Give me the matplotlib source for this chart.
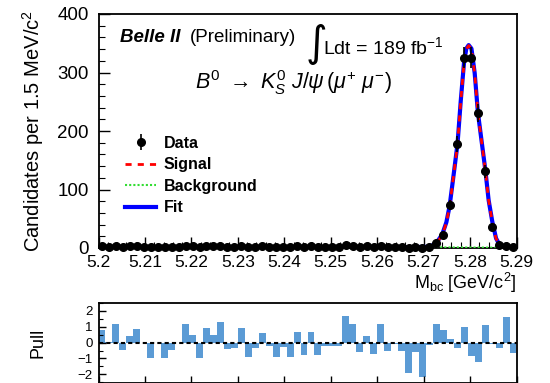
import matplotlib
matplotlib.use("Agg")
import matplotlib.pyplot as plt
from matplotlib.lines import Line2D
from matplotlib.ticker import MultipleLocator
import numpy as np

plt.rcParams["font.family"] = ["Liberation Sans", "DejaVu Sans"]
plt.rcParams["mathtext.fontset"] = "custom"
plt.rcParams["mathtext.rm"] = "Liberation Sans"
plt.rcParams["mathtext.it"] = "Liberation Sans:italic"
plt.rcParams["mathtext.bf"] = "Liberation Sans:bold"

# istogramma Mbc: 60 bin da 1.5 MeV tra 5.20 e 5.29
mbc_min, mbc_max, n_bins = 5.20, 5.29, 60
counts = [3, 2, 4, 1, 3, 3, 2, 1, 2, 1,
          1, 2, 4, 3, 1, 3, 3, 4, 1, 1,
          3, 1, 1, 3, 2, 1, 1, 1, 3, 1,
          3, 1, 2, 2, 2, 5, 4, 1, 3, 1,
          4, 1, 2, 1, 0, 1, 0, 2, 9, 22,
          73, 178, 325, 325, 231, 131, 36, 5, 3, 1]
pulls = [0.8, 0.05, 1.2, -0.47, 0.4, 0.85, 0.0, -0.95, 0.0, -0.95,
         -0.47, 0.0, 1.2, 0.45, -0.95, 0.9, 0.5, 1.3, -0.4, -0.35,
         0.9, -0.9, -0.35, 0.6, -0.2, -0.9, -0.3, -0.9, 0.65, -0.8,
         0.65, -0.8, -0.2, -0.2, -0.2, 1.7, 1.2, -0.6, 0.4, -0.7,
         1.2, -0.55, -0.1, -0.55, -1.95, -0.6, -2.15, -0.15, 1.2, 0.8,
         0.2, -0.35, 1.0, -0.85, -1.2, 1.1, -0.1, -0.35, 1.6, -0.65]

# curve del fit lette punto per punto
curve_mass = [5.2000, 5.2100, 5.2200, 5.2300, 5.2400, 5.2500, 5.2600, 5.2680,
              5.2713, 5.2727, 5.2740, 5.2749, 5.2756, 5.2763, 5.2773, 5.2780,
              5.2787, 5.2792, 5.2797, 5.2803, 5.2810, 5.2817, 5.2825, 5.2833,
              5.2840, 5.2848, 5.2856, 5.2865, 5.2878, 5.2890, 5.2900]
signal_curve = [0, 0, 0, 0, 0, 0, 0, 0.3,
                1, 7, 22, 43, 71, 114, 177, 251,
                316, 340, 346, 340, 298, 230, 181, 132,
                81, 44, 16, 3, 0.5, 0, 0]
bkg_curve = [1.6, 1.6, 1.6, 1.5, 1.5, 1.4, 1.3, 1.2,
             1.1, 1.1, 1.1, 1.0, 1.0, 1.0, 1.0, 0.9,
             0.9, 0.9, 0.9, 0.9, 0.8, 0.8, 0.8, 0.7,
             0.7, 0.6, 0.5, 0.4, 0.2, 0.0, 0.0]

edges = np.linspace(mbc_min, mbc_max, n_bins + 1)
centers = 0.5 * (edges[:-1] + edges[1:])
width = edges[1] - edges[0]
counts = np.array(counts, dtype=float)
fit_curve = np.array(signal_curve) + np.array(bkg_curve)

fig = plt.figure(figsize=(5.5, 3.83), dpi=100)
ax = fig.add_axes([98.5 / 550, 1 - 248 / 383, 418 / 550, 234 / 383])
axp = fig.add_axes([98.5 / 550, 0.0, 418 / 550, 80 / 383])

# pannello principale
ax.plot(curve_mass, fit_curve, color="#0000ff", lw=3.0, zorder=2)
ax.plot(curve_mass, signal_curve, color="#ff0000", lw=2.0, ls=(0, (2.2, 2.2)), zorder=3)
ax.plot(curve_mass, bkg_curve, color="#33dd33", lw=1.5, ls=(0, (1, 1)), zorder=3)
data = ax.errorbar(centers, counts, yerr=np.sqrt(counts), fmt="o", color="black",
                   ms=5.5, elinewidth=1.2, capsize=0, zorder=4, clip_on=False)

ax.set_xlim(mbc_min, mbc_max)
ax.set_ylim(0, 400)
ax.set_xticks(np.round(np.arange(5.20, 5.2901, 0.01), 2))
ax.set_xticklabels(["5.2", "5.21", "5.22", "5.23", "5.24", "5.25", "5.26", "5.27", "5.28", "5.29"])
ax.xaxis.set_minor_locator(MultipleLocator(0.002))
ax.yaxis.set_major_locator(MultipleLocator(100))
ax.yaxis.set_minor_locator(MultipleLocator(20))
ax.tick_params(which="both", direction="in", top=False, right=False)
ax.tick_params(which="major", length=8, width=1.0)
ax.tick_params(which="minor", length=4, width=0.8)
ax.tick_params(axis="x", labelsize=12.5, pad=5)
ax.tick_params(axis="y", labelsize=13.5, pad=7)
for s in ax.spines.values():
    s.set_linewidth(1.3)

ax.set_ylabel("Candidates per 1.5 MeV/c$^{2}$", fontsize=14.5)
ax.yaxis.set_label_coords(-0.125, 0.5)
ax.text(1.0, -0.15, r"M$_{\rm bc}$ [GeV/c$^{2}$]", transform=ax.transAxes,
        ha="right", va="center", fontsize=13)

ax.text(0.051, 0.88, "Belle II", transform=ax.transAxes, fontsize=13.5,
        fontweight="bold", style="italic", va="baseline")
ax.text(0.218, 0.88, "(Preliminary)", transform=ax.transAxes, fontsize=13.5,
        va="baseline")
ax.text(0.521, 0.87, "\u222b", transform=ax.transAxes, fontsize=30,
        ha="center", va="center", family=["DejaVu Sans"])
ax.text(0.538, 0.83, "Ldt = 189 fb$^{-1}$", transform=ax.transAxes,
        fontsize=14, va="baseline")
ax.text(0.231, 0.68, r"$B^{\mathit{0}}\ \rightarrow\ K^{\mathit{0}}_{S}\ J/\psi\,(\mu^{+}\ \mu^{-})$",
        transform=ax.transAxes, fontsize=15.5, va="baseline")

handles = [
    data,
    Line2D([], [], color="#ff0000", lw=2.0, ls=(0, (2.2, 2.2))),
    Line2D([], [], color="#33dd33", lw=1.5, ls=(0, (1, 1))),
    Line2D([], [], color="#0000ff", lw=3.0),
]
ax.legend(handles, ["Data", "Signal", "Background", "Fit"], loc="upper left",
          bbox_to_anchor=(0.03, 0.54), frameon=False,
          prop={"weight": "bold", "size": 11.5}, handlelength=1.9,
          labelspacing=0.4, handletextpad=0.5)

# pannello dei pull
axp.bar(centers, pulls, width=width, color="#5b9bd5", edgecolor="none")
axp.axhline(0, color="black", lw=1.5, ls=(0, (2, 1.5)))
axp.set_xlim(mbc_min, mbc_max)
axp.set_ylim(-2.55, 2.5)
axp.set_xticks(np.round(np.arange(5.20, 5.2901, 0.01), 2))
axp.set_xticklabels([])
axp.yaxis.set_major_locator(MultipleLocator(1))
axp.yaxis.set_minor_locator(MultipleLocator(0.5))
axp.tick_params(which="both", direction="in", top=False, right=False)
axp.tick_params(which="major", length=5, width=1.0, labelsize=9.5, pad=4)
axp.tick_params(which="minor", length=3, width=0.8)
for s in axp.spines.values():
    s.set_linewidth(1.3)
axp.set_ylabel("Pull", fontsize=13)
axp.yaxis.set_label_coords(-0.125, 0.5)

fig.savefig("out.png", dpi=100)
